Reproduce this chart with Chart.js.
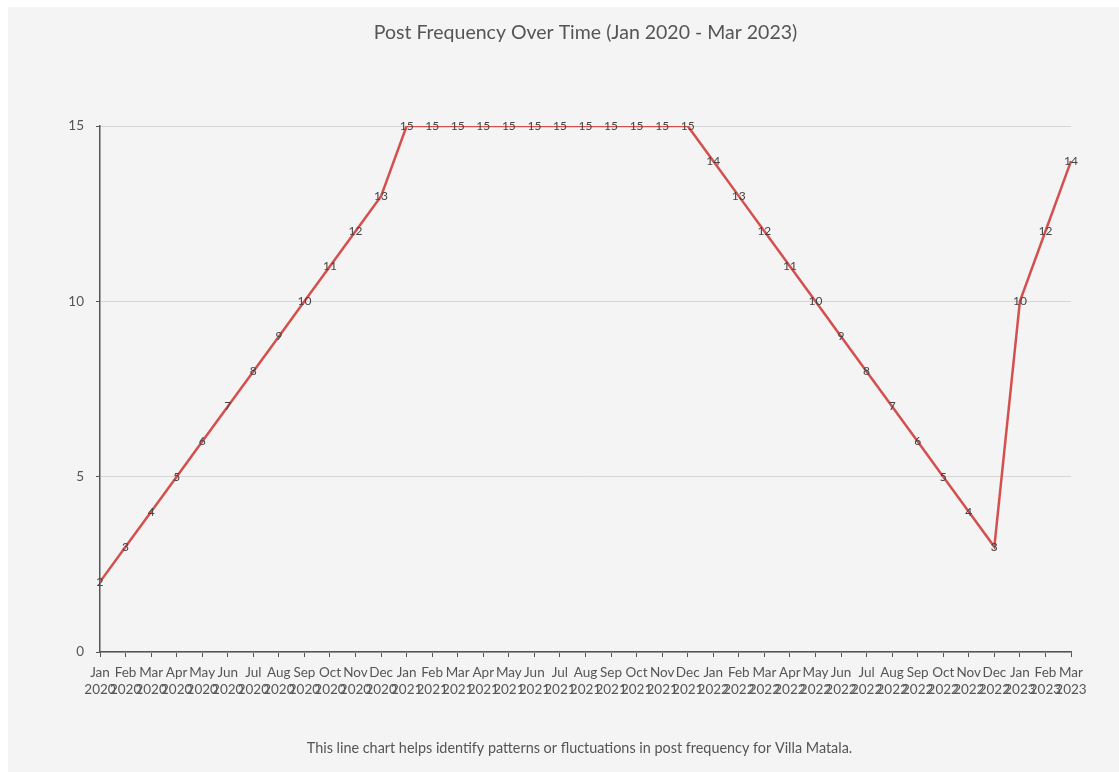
<!DOCTYPE html>
<html>
<head>
<meta charset="utf-8">
<title>Post Frequency Over Time</title>
<script src="https://cdn.jsdelivr.net/npm/chart.js@4.4.1/dist/chart.umd.min.js"></script>
<style>
  html, body { margin: 0; padding: 0; background: #ffffff; }
  #panel {
    position: absolute; left: 8px; top: 7px;
    width: 1111px; height: 765px;
    background: #f4f4f4;
  }
  #chart { display: block; }
</style>
</head>
<body>
<div id="panel"><canvas id="chart" width="1111" height="765"></canvas></div>
<script>
// Monthly categories, Jan 2020 through Mar 2023
const months = ['Jan','Feb','Mar','Apr','May','Jun','Jul','Aug','Sep','Oct','Nov','Dec',
                'Jan','Feb','Mar','Apr','May','Jun','Jul','Aug','Sep','Oct','Nov','Dec',
                'Jan','Feb','Mar','Apr','May','Jun','Jul','Aug','Sep','Oct','Nov','Dec',
                'Jan','Feb','Mar'];
const years = ['2020','2020','2020','2020','2020','2020','2020','2020','2020','2020','2020','2020',
               '2021','2021','2021','2021','2021','2021','2021','2021','2021','2021','2021','2021',
               '2022','2022','2022','2022','2022','2022','2022','2022','2022','2022','2022','2022',
               '2023','2023','2023'];
// Number of posts per month
const postCounts = [2, 3, 4, 5, 6, 7, 8, 9, 10, 11, 12, 13,
                    15, 15, 15, 15, 15, 15, 15, 15, 15, 15, 15, 15,
                    14, 13, 12, 11, 10, 9, 8, 7, 6, 5, 4, 3,
                    10, 12, 14];
const yTicks = [0, 5, 10, 15];

const titleText = 'Post Frequency Over Time (Jan 2020 - Mar 2023)';
const captionText = 'This line chart helps identify patterns or fluctuations in post frequency for Villa Matala.';

const labels = months.map((m, i) => [m, years[i]]);
const FONT = "Lato, 'Open Sans', 'DejaVu Sans', sans-serif";

// Writes each value centred on its point
const valueLabels = {
  id: 'valueLabels',
  afterDatasetsDraw(chart) {
    const ctx = chart.ctx;
    const meta = chart.getDatasetMeta(0);
    const data = chart.data.datasets[0].data;
    ctx.save();
    ctx.font = '12px ' + FONT;
    ctx.fillStyle = '#444444';
    ctx.textAlign = 'center';
    ctx.textBaseline = 'middle';
    meta.data.forEach((pt, i) => {
      ctx.fillText(String(data[i]), pt.x, pt.y);
    });
    ctx.restore();
  }
};

// Heading above and caption below, centred over the plot area
const headings = {
  id: 'headings',
  afterDraw(chart) {
    const ctx = chart.ctx;
    const area = chart.chartArea;
    const cx = (area.left + area.right) / 2;
    ctx.save();
    ctx.fillStyle = '#555555';
    ctx.textAlign = 'center';
    ctx.textBaseline = 'middle';
    ctx.font = '19.5px ' + FONT;
    ctx.fillText(titleText, cx, 26);
    ctx.font = '14.4px ' + FONT;
    ctx.fillText(captionText, cx - 6, 741);
    ctx.restore();
  }
};

new Chart(document.getElementById('chart'), {
  type: 'line',
  data: {
    labels: labels,
    datasets: [{
      label: 'Posts',
      data: postCounts,
      borderColor: '#d4504f',
      borderWidth: 2.5,
      pointRadius: 0,
      pointHoverRadius: 0,
      tension: 0,
      fill: false
    }]
  },
  options: {
    responsive: false,
    animation: false,
    layout: { padding: { left: 0, right: 48, top: 119, bottom: 75 } },
    plugins: {
      legend: { display: false },
      tooltip: { enabled: false },
      title: { display: false },
      subtitle: { display: false }
    },
    scales: {
      x: {
        offset: false,
        afterFit(scale) { scale.height = 45; },
        grid: {
          drawOnChartArea: false,
          drawTicks: true,
          tickLength: 5,
          tickColor: '#555555'
        },
        border: { display: true, color: '#555555', width: 1.5 },
        ticks: {
          autoSkip: false,
          maxRotation: 0,
          minRotation: 0,
          padding: 7,
          color: '#555555',
          font: { family: FONT, size: 13.5, lineHeight: 1.25 }
        }
      },
      y: {
        min: 0,
        max: 15,
        afterBuildTicks(scale) {
          scale.ticks = yTicks.map(v => ({ value: v }));
        },
        afterFit(scale) { scale.width = 92; },
        grid: {
          color: '#d6d6d6',
          lineWidth: 1,
          drawTicks: true,
          tickLength: 4,
          tickColor: '#555555'
        },
        border: { display: true, color: '#555555', width: 1.5 },
        ticks: {
          padding: 12,
          color: '#555555',
          font: { family: FONT, size: 13.5 }
        }
      }
    }
  },
  plugins: [valueLabels, headings]
});
</script>
</body>
</html>
